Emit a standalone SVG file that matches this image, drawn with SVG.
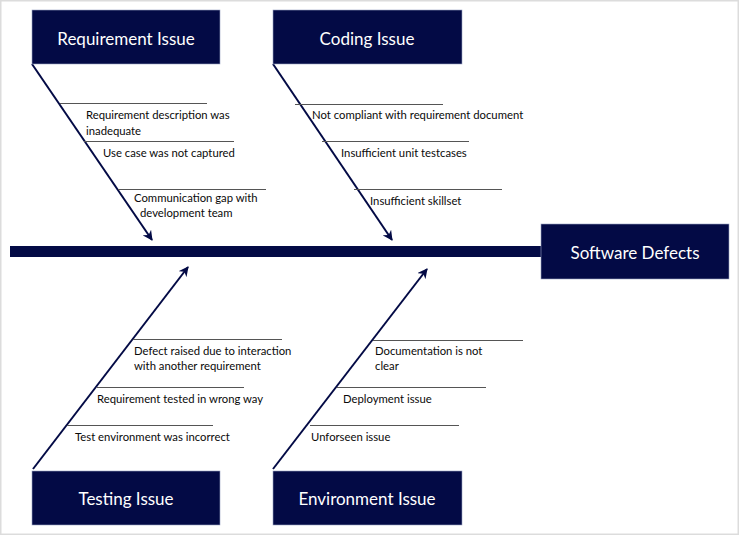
<svg xmlns="http://www.w3.org/2000/svg" width="740" height="536" viewBox="0 0 740 536">
<style>
.box{fill:#030a45;stroke:#9aa3c4;stroke-width:0.6}
.title{font-family:Lato,"Liberation Sans",sans-serif;font-size:17px;fill:#ffffff;text-anchor:middle}
.lbl{font-family:Lato,"Liberation Sans",sans-serif;font-size:11.3px;fill:#0a0a0a}
.rib{stroke:#555555;stroke-width:1;fill:none}
.bone{stroke:#030a45;stroke-width:2;fill:none;marker-end:url(#ah)}
</style>
<defs>
<marker id="ah" viewBox="0 0 10 10" refX="9" refY="5" markerWidth="5" markerHeight="5" orient="auto" markerUnits="strokeWidth">
<path d="M0,0 L10,5 L0,10 L3,5 Z" fill="#030a45"/>
</marker>
</defs>
<rect x="0.75" y="0.75" width="737.5" height="533.5" fill="#ffffff" stroke="#dcdcdc" stroke-width="1.5"/>
<g id="connectors">
<rect x="10" y="246" width="532" height="11" fill="#030a45"/>
<line class="bone" x1="32" y1="64" x2="152" y2="240"/>
<line class="bone" x1="273" y1="64" x2="392" y2="240"/>
<line class="bone" x1="33" y1="469" x2="188" y2="267"/>
<line class="bone" x1="273" y1="469" x2="427" y2="269"/>
<line class="rib" x1="60" y1="103.5" x2="207" y2="103.5"/>
<line class="rib" x1="84" y1="141.5" x2="234" y2="141.5"/>
<line class="rib" x1="118" y1="189.5" x2="266" y2="189.5"/>
<line class="rib" x1="295" y1="104.5" x2="443" y2="104.5"/>
<line class="rib" x1="322" y1="141.5" x2="469" y2="141.5"/>
<line class="rib" x1="354" y1="189.5" x2="502" y2="189.5"/>
<line class="rib" x1="133" y1="339.5" x2="282" y2="339.5"/>
<line class="rib" x1="97" y1="387.5" x2="244" y2="387.5"/>
<line class="rib" x1="67" y1="425.5" x2="213" y2="425.5"/>
<line class="rib" x1="373" y1="340.5" x2="523" y2="340.5"/>
<line class="rib" x1="337" y1="387.5" x2="486" y2="387.5"/>
<line class="rib" x1="310" y1="425.5" x2="459" y2="425.5"/>
</g>
<g id="requirement-issue">
<rect class="box" x="32" y="10" width="188" height="54"/>
<text class="title" x="126" y="45">Requirement Issue</text>
<text class="lbl" x="86" y="119">Requirement description was</text>
<text class="lbl" x="86" y="135">inadequate</text>
<text class="lbl" x="103" y="157">Use case was not captured</text>
<text class="lbl" x="134" y="202">Communication gap with</text>
<text class="lbl" x="140" y="217">development team</text>
</g>
<g id="coding-issue">
<rect class="box" x="273" y="10" width="189" height="54"/>
<text class="title" x="367" y="45">Coding Issue</text>
<text class="lbl" x="312" y="119">Not compliant with requirement document</text>
<text class="lbl" x="341" y="157">Insufficient unit testcases</text>
<text class="lbl" x="370" y="205">Insufficient skillset</text>
</g>
<g id="testing-issue">
<rect class="box" x="32" y="471" width="188" height="54"/>
<text class="title" x="126" y="505">Testing Issue</text>
<text class="lbl" x="134" y="355">Defect raised due to interaction</text>
<text class="lbl" x="134" y="370">with another requirement</text>
<text class="lbl" x="97" y="403">Requirement tested in wrong way</text>
<text class="lbl" x="75" y="441">Test environment was incorrect</text>
</g>
<g id="environment-issue">
<rect class="box" x="273" y="471" width="189" height="54"/>
<text class="title" x="367" y="505">Environment Issue</text>
<text class="lbl" x="375" y="355">Documentation is not</text>
<text class="lbl" x="375" y="370">clear</text>
<text class="lbl" x="343" y="403">Deployment issue</text>
<text class="lbl" x="311" y="441">Unforseen issue</text>
</g>
<g id="software-defects">
<rect class="box" x="541" y="224" width="188" height="55"/>
<text class="title" x="635" y="259">Software Defects</text>
</g>
</svg>
